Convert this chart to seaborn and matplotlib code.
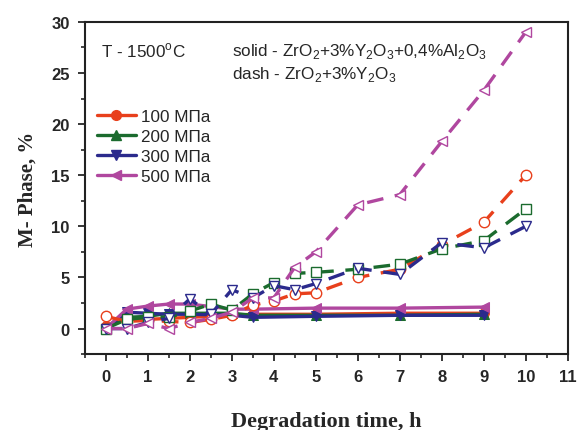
import matplotlib
matplotlib.use("Agg")
import matplotlib.pyplot as plt
import seaborn as sns
import pandas as pd
from matplotlib.lines import Line2D

sns.set_theme(style="ticks")
plt.rcParams['font.family'] = ['Liberation Sans', 'DejaVu Sans']
plt.rcParams['mathtext.fontset'] = 'custom'
plt.rcParams['mathtext.rm'] = 'Liberation Sans'

# Dashed series: ZrO2+3%Y2O3
x_dash = [0, 0.5, 1, 1.5, 2, 2.5, 3, 3.5, 4, 4.5, 5, 6, 7, 8, 9, 10]
d100 = [1.2, 0.7, 0.8, 0.7, 0.6, 0.9, 1.3, 2.3, 2.7, 3.4, 3.5, 5.0, 5.8, 8.2, 10.4, 15.0]
d200 = [0.0, 0.9, 1.1, 1.1, 1.7, 2.4, 1.8, 3.4, 4.5, 5.4, 5.5, 5.8, 6.3, 7.8, 8.6, 11.7]
d300 = [0.0, 0.0, 0.6, 1.0, 2.9, 1.4, 3.8, 3.0, 4.2, 3.8, 4.4, 5.9, 5.3, 8.4, 7.9, 10.0]
d500 = [0.0, 0.0, 0.5, 0.0, 0.6, 1.0, 1.6, 3.0, 3.0, 6.0, 7.5, 12.1, 13.1, 18.3, 23.3, 29.0]

# Solid series: ZrO2+3%Y2O3+0,4%Al2O3
x_solid = [0, 0.5, 1, 1.5, 2, 3, 3.5, 5, 7, 9]
s100 = [0.3, 0.9, 0.9, 1.0, 1.1, 1.3, 1.4, 1.4, 1.5, 1.5]
s200 = [0.0, 1.1, 1.2, 1.5, 1.5, 1.5, 1.3, 1.3, 1.3, 1.4]
s300 = [0.0, 1.6, 1.5, 1.4, 1.4, 1.3, 1.1, 1.2, 1.3, 1.3]
s500 = [0.0, 1.9, 2.2, 2.4, 2.4, 1.9, 1.9, 2.0, 2.0, 2.1]

labels = ["100 МПа", "200 МПа", "300 МПа", "500 МПа"]
colors = ["#e8401c", "#1b6b2e", "#2b2a8c", "#b0479f"]
solid_markers = ["o", "^", "v", "<"]
dash_markers = ["o", "s", "v", "<"]
xticks = list(range(0, 12))
yticks = [0, 5, 10, 15, 20, 25, 30]

fig = plt.figure(figsize=(5.77, 4.31), dpi=100)
ax = fig.add_axes([0.147, 0.176, 0.837, 0.771])

dash_data = [d100, d200, d300, d500]
solid_data = [s100, s200, s300, s500]

for vals, c, m in zip(solid_data, colors, solid_markers):
    sns.lineplot(x=x_solid, y=vals, ax=ax, color=c, linewidth=2.4,
                 marker=m, markersize=7, markerfacecolor=c,
                 markeredgecolor=c, sort=False, estimator=None)

for vals, c, m in zip(dash_data, colors, dash_markers):
    sns.lineplot(x=x_dash, y=vals, ax=ax, color=c, linewidth=2.4,
                 linestyle=(0, (5, 3.5)), marker=m, markersize=7.5,
                 markerfacecolor="white", markeredgecolor=c,
                 markeredgewidth=1.0, sort=False, estimator=None)

ax.set_xlim(-0.5, 11)
ax.set_ylim(-2.5, 30)
ax.set_xticks(xticks)
ax.set_xticks([v + 0.5 for v in range(-1, 11)], minor=True)
ax.set_yticks(yticks)
ax.set_yticks([v + 2.5 for v in range(-5, 30, 5)], minor=True)
ax.tick_params(axis='both', which='major', direction='out', length=5,
               width=1.3, labelsize=12, pad=6)
ax.tick_params(axis='both', which='minor', direction='out', length=3, width=1.2)
for lab in ax.get_xticklabels() + ax.get_yticklabels():
    lab.set_fontweight('bold')
for sp in ax.spines.values():
    sp.set_linewidth(1.5)
    sp.set_color('#222222')

ax.set_xlabel("Degradation time, h", fontsize=16, fontweight='bold',
              family='Liberation Serif', labelpad=19)
ax.set_ylabel("M- Phase, %", fontsize=15, fontweight='bold',
              family='Liberation Serif', labelpad=10)

ax.text(0.033, 0.915, "T - 1500$^{\\rm o}$C", transform=ax.transAxes,
        fontsize=12.3, va='center')
ax.text(0.305, 0.915,
        "solid - ZrO$_2$+3%Y$_2$O$_3$+0,4%Al$_2$O$_3$",
        transform=ax.transAxes, fontsize=12.3, va='center')
ax.text(0.305, 0.845, "dash - ZrO$_2$+3%Y$_2$O$_3$",
        transform=ax.transAxes, fontsize=12.3, va='center')

handles = [Line2D([0], [0], color=c, linewidth=2.4, marker=m, markersize=7,
                  markerfacecolor=c, markeredgecolor=c)
           for c, m in zip(colors, solid_markers)]
ax.legend(handles, labels, loc='upper left', bbox_to_anchor=(0.0, 0.775),
          frameon=False, fontsize=12.3, handlelength=2.3, handletextpad=0.3,
          labelspacing=0.3, borderaxespad=0.3)

fig.savefig("out.png", dpi=100)
